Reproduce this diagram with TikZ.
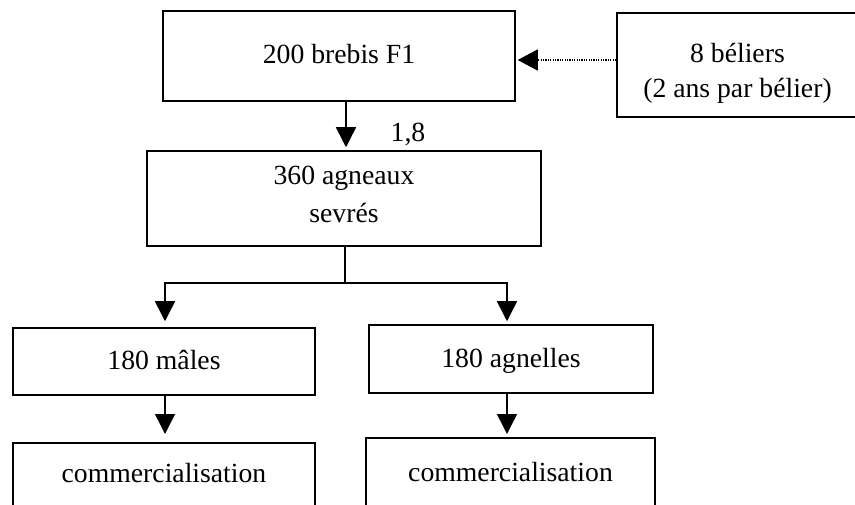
\documentclass[tikz,border=0pt]{standalone}
\usepackage{fontspec}
\setmainfont{Liberation Serif}
\usetikzlibrary{arrows.meta}
\begin{document}
\begin{tikzpicture}[x=1pt,y=-1pt,
  box/.style={draw, line width=1.5pt, inner sep=0pt, align=center,
    font=\fontsize{27.7}{38}\selectfont},
  onerow/.style={text height=20pt, text depth=4pt},
  arr/.style={line width=1.5pt, line join=miter,
    -{Triangle[length=20pt,width=20pt]}},
  feed/.style={line width=1.2pt, dash pattern=on 1.2pt off 1.2pt,
    -{Triangle[length=20pt,width=21pt]}},
  lbl/.style={inner sep=0pt, font=\fontsize{27.7}{38}\selectfont},
]
\useasboundingbox (0,0) rectangle (855,505);

% flock boxes (two-line boxes sit on the baseline of their last line)
\node[box, onerow, minimum width=352pt, minimum height=90pt]
  (brebis) at (339,56) {200 brebis F1};
\node[box, font=\fontsize{27.7}{35}\selectfont, text height=72pt, text depth=6pt,
  minimum width=241pt, minimum height=104pt]
  (beliers) at (737.5,65) {8 béliers\\(2 ans par bélier)};
\node[box, text height=53pt, text depth=4pt, minimum width=394pt, minimum height=95pt]
  (agneaux) at (344,198.5) {360 agneaux\\sevrés};
\node[box, onerow, minimum width=302pt, minimum height=67pt]
  (males) at (164,361.5) {180 mâles};
\node[box, onerow, minimum width=284pt, minimum height=68pt]
  (agnelles) at (511,359) {180 agnelles};
\node[box, anchor=north, text height=40pt, text depth=40pt, minimum width=302pt]
  (comm1) at (164,442) {commercialisation};
\node[box, anchor=north, text height=44pt, text depth=40pt, minimum width=289pt]
  (comm2) at (510.5,437) {commercialisation};

% helper points for the connectors
\coordinate (stem) at (346,0);
\coordinate (split) at (345,283);
\coordinate (left) at (165,283);
\coordinate (right) at (507,283);
\coordinate (feedrow) at (0,60);

% rams feeding the ewes
\draw[feed, shorten >=2pt] (beliers.west |- feedrow) -- (brebis.east |- feedrow);

% ewes to weaned lambs
\draw[arr, shorten >=3pt] (brebis.south -| stem) -- (agneaux.north -| stem);
\node[lbl, anchor=base] (ratio) at (408,142) {1,8};

% split into males and females
\draw[line width=1.5pt] (agneaux.south -| split) -- (split);
\draw[arr, shorten >=6pt] (split) -- (left) -- (left |- males.north);
\draw[arr, shorten >=3pt] (split) -- (right) -- (right |- agnelles.north);

% sale
\draw[arr, shorten >=8pt] (males.south -| left) -- (comm1.north -| left);
\draw[arr, shorten >=3pt] (agnelles.south -| right) -- (comm2.north -| right);
\end{tikzpicture}
\end{document}
